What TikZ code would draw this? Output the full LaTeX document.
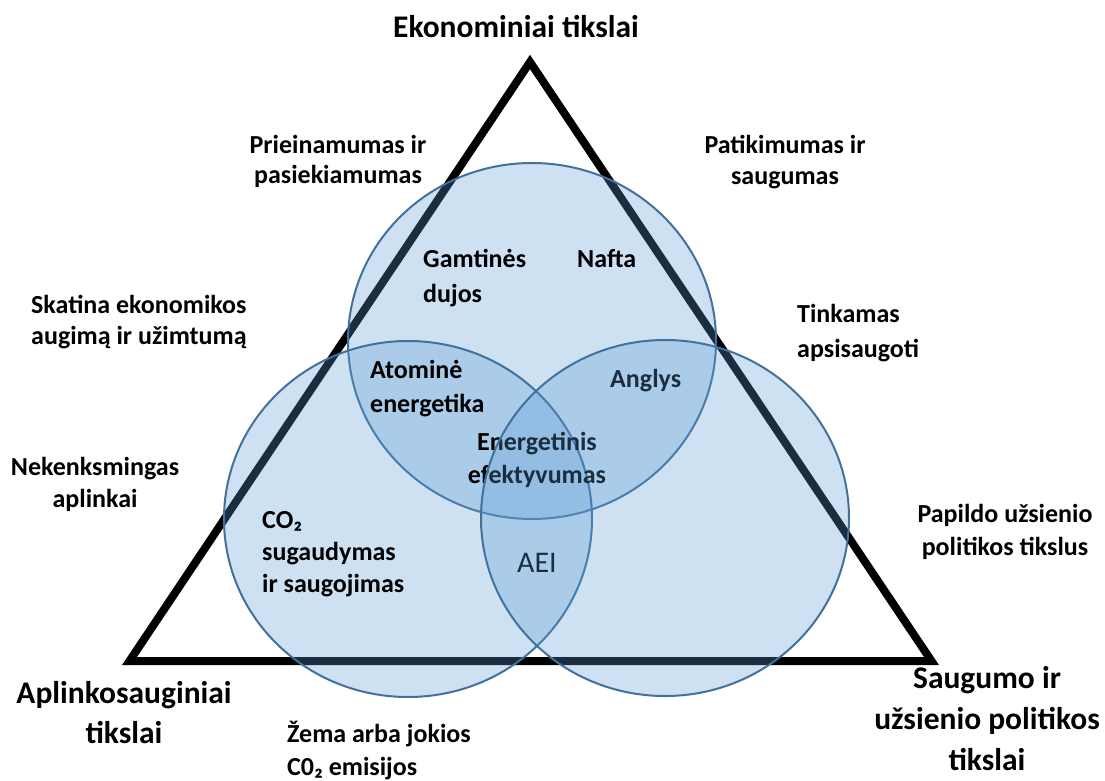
\documentclass[tikz,border=0pt]{standalone}
\usepackage{fontspec}
\setmainfont{Carlito}
\definecolor{vennline}{HTML}{41719C}
\definecolor{vennfill}{HTML}{5B9BD5}
\begin{document}
\begin{tikzpicture}[x=1pt,y=-1pt,
  venn/.style={draw=vennline, line width=2pt, fill=vennfill, fill opacity=0.3},
  big/.style={font=\fontsize{31.5}{40}\selectfont\bfseries, inner sep=0pt, align=center, anchor=base},
  small/.style={font=\fontsize{26}{31}\selectfont\bfseries, inner sep=0pt, align=center, anchor=base},
  smallL/.style={font=\fontsize{26}{31}\selectfont\bfseries, inner sep=0pt, align=left, anchor=base west},
  lsp/.style={font=\fontsize{26}{#1}\selectfont\bfseries}
]
\useasboundingbox (0,0) rectangle (1105,780);
% triangle
\coordinate (apex) at (530,62);
\coordinate (bl) at (129.5,661);
\coordinate (br) at (931.5,661);
\draw[line width=8pt, line join=miter] (bl) -- (apex) -- (br) -- cycle;
% top and left circles
\path[venn] (532,341) ellipse [x radius=184, y radius=178];
\path[venn] (408,519) ellipse [x radius=184, y radius=178];
% inner labels (anchor = baseline of last line)
\node[smallL, lsp=35] (gam) at (423,302) {Gamtinės\\dujos};
\node[smallL] (naf) at (577,267) {Nafta};
\node[smallL, lsp=34] (ato) at (370,412) {Atominė\\energetika};
\node[small, lsp=33] (ene) at (537,483) {Energetinis\\efektyvumas};
\node[smallL] (ang) at (610,387) {Anglys};
\node[smallL, lsp=32] (co2) at (262,592) {CO₂\\sugaudymas\\ir saugojimas};
\node[font=\fontsize{30}{36}\selectfont, inner sep=0pt, anchor=base] (aei) at (537,572) {AEI};
% right circle
\path[venn] (665,518) ellipse [x radius=184, y radius=178];
% outer labels
\node[big] (eko) at (516,37) {Ekonominiai tikslai};
\node[big] (apl) at (124,743) {Aplinkosauginiai\\tikslai};
\node[big, font=\fontsize{31.5}{41}\selectfont\bfseries] (sau) at (987,770) {Saugumo ir\\užsienio politikos\\tikslai};
\node[small, lsp=30] (pri) at (338,183) {Prieinamumas ir\\pasiekiamumas};
\node[small] (pat) at (785,184) {Patikimumas ir\\saugumas};
\node[smallL] (ska) at (31,344) {Skatina ekonomikos\\augimą ir užimtumą};
\node[smallL, lsp=35] (tin) at (797,357) {Tinkamas\\apsisaugoti};
\node[small, lsp=32] (nek) at (95,507) {Nekenksmingas\\aplinkai};
\node[small, lsp=33] (pap) at (1005,555) {Papildo užsienio\\politikos tikslus};
\node[smallL, lsp=33] (zem) at (287,775) {Žema arba jokios\\C0₂ emisijos};
\end{tikzpicture}
\end{document}
